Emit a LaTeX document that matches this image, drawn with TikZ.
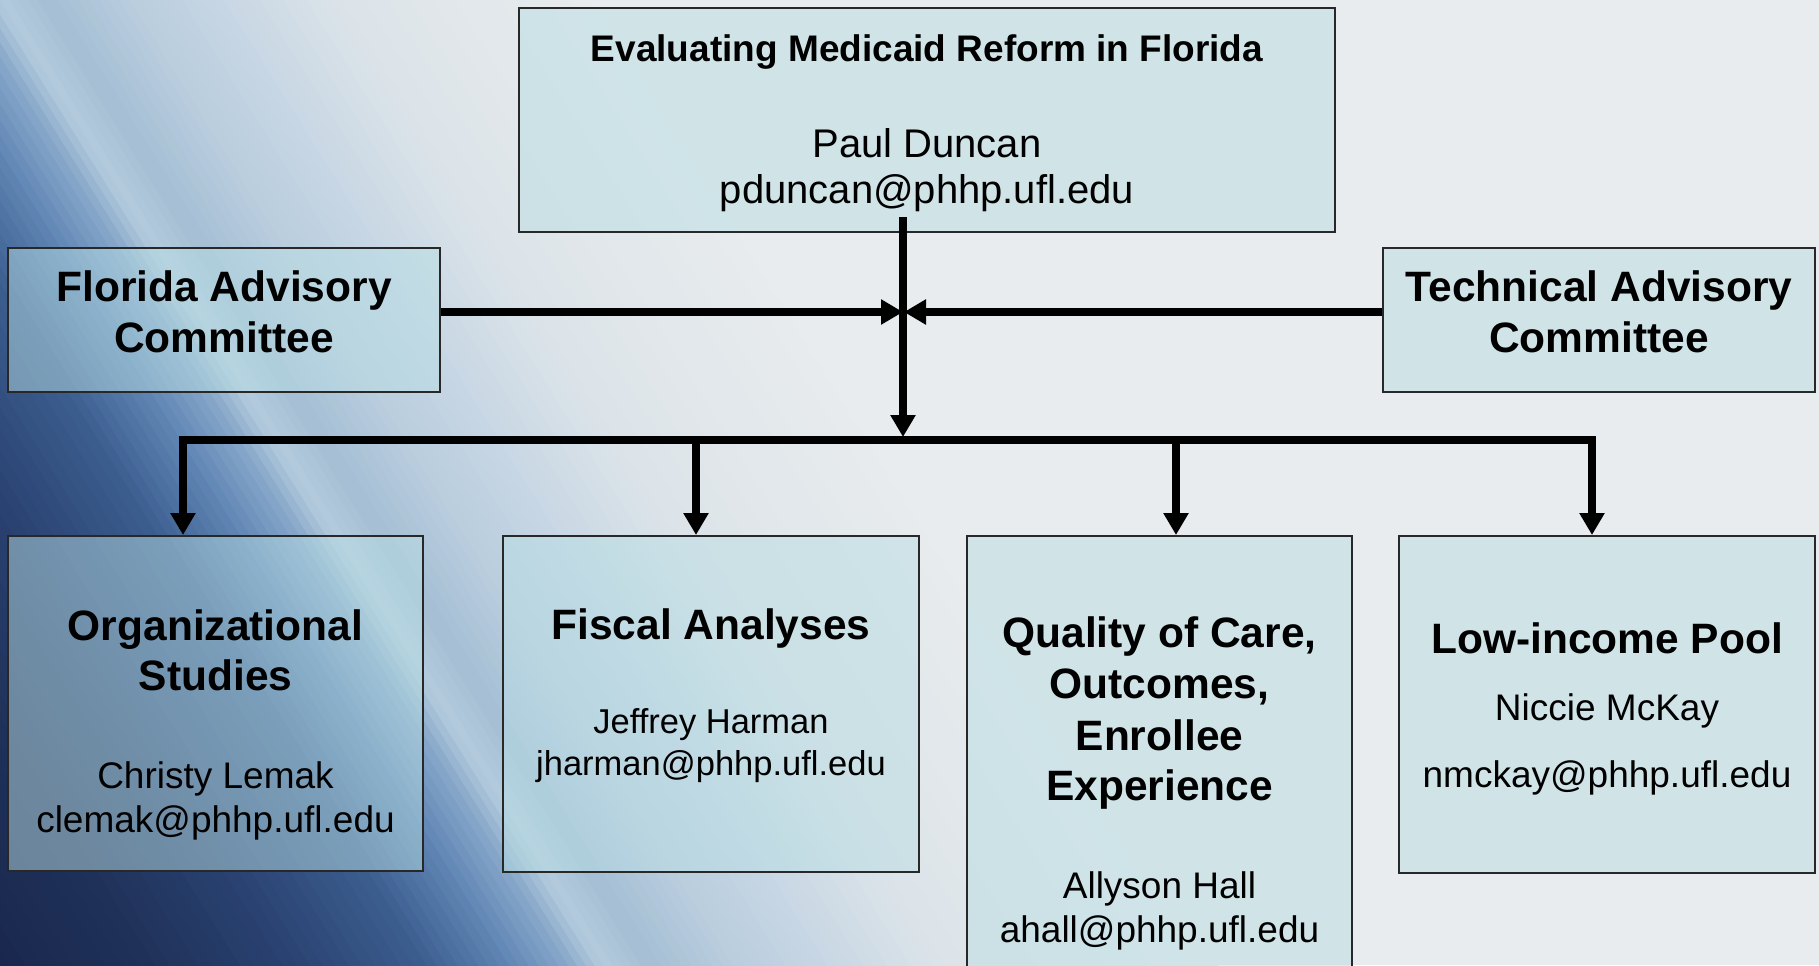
\documentclass[tikz,border=0pt]{standalone}
\usepackage{fontspec}
\setmainfont{Liberation Sans}
\usetikzlibrary{arrows.meta}
\definecolor{boxfill}{RGB}{185,222,228}
\definecolor{boxline}{RGB}{40,40,40}
\definecolor{bgA}{RGB}{20,32,70}
\definecolor{bgB}{RGB}{32,50,90}
\definecolor{bgC}{RGB}{42,67,114}
\definecolor{bgD}{RGB}{60,94,144}
\definecolor{bgE}{RGB}{96,134,180}
\definecolor{bgF}{RGB}{135,168,202}
\definecolor{bgG}{RGB}{180,203,220}
\definecolor{bgH}{RGB}{165,190,212}
\definecolor{bgI}{RGB}{185,205,222}
\definecolor{bgJ}{RGB}{200,215,228}
\definecolor{bgL}{RGB}{220,228,233}
\definecolor{bgK}{RGB}{233,236,238}
\def\bgcs{0.848}
\def\bgsn{0.530}
% strips of a diagonal gradient: u1 u2 colour1 colour2 steps
\newcommand\bgseg[5]{%
  \foreach \i in {1,...,#5}{%
    \pgfmathsetmacro\bgua{#1+(#2-#1)*(\i-1)/#5}%
    \pgfmathsetmacro\bgub{#1+(#2-#1)*\i/#5+1.5}%
    \pgfmathsetmacro\bgpp{100-100*(\i-0.5)/#5}%
    \fill[fill={#3!\bgpp!#4}] ({(\bgua-\bgsn*50)/\bgcs},-50) -- ({(\bgua+\bgsn*1015)/\bgcs},1015)
      -- ({(\bgub+\bgsn*1015)/\bgcs},1015) -- ({(\bgub-\bgsn*50)/\bgcs},-50) -- cycle;
  }}
\tikzset{
  box/.style={draw=boxline, line width=1pt, fill=boxfill, fill opacity=0.5, rectangle, inner sep=0pt},
  conn/.style={line width=3.6pt, draw=black, line join=miter},
  tipA/.style={-{Triangle[width=12pt,length=11pt]}},
  hd/.style={anchor=base, inner sep=0pt, font=\bfseries\fontsize{21.25}{25}\selectfont},
  hdsm/.style={anchor=base, inner sep=0pt, font=\bfseries\fontsize{18.5}{22}\selectfont},
  nm/.style={anchor=base, inner sep=0pt, font=\fontsize{18.5}{22}\selectfont},
  nmsm/.style={anchor=base, inner sep=0pt, font=\fontsize{17.25}{21}\selectfont},
  nmlg/.style={anchor=base, inner sep=0pt, font=\fontsize{20}{23}\selectfont}
}
\begin{document}
\begin{tikzpicture}[x=0.5pt,y=-0.5pt]
\useasboundingbox (0,0) rectangle (1819,965);
\clip (0,0) rectangle (1819,965);
% background
\fill[bgK] (0,0) rectangle (1819,965);
\bgseg{-600}{-380}{bgA}{bgB}{16}
\bgseg{-380}{-260}{bgB}{bgC}{10}
\bgseg{-260}{-150}{bgC}{bgD}{10}
\bgseg{-150}{-80}{bgD}{bgE}{8}
\bgseg{-80}{-30}{bgE}{bgF}{6}
\bgseg{-30}{0}{bgF}{bgG}{4}
\bgseg{0}{40}{bgG}{bgH}{5}
\bgseg{40}{110}{bgH}{bgI}{8}
\bgseg{110}{190}{bgI}{bgJ}{9}
\bgseg{190}{290}{bgJ}{bgL}{10}
\bgseg{290}{520}{bgL}{bgK}{12}
% boxes
\node[box, minimum width=408pt, minimum height=112pt] (top) at (927,120) {};
\node[box, minimum width=216pt, minimum height=72pt] (fac) at (224,320) {};
\node[box, minimum width=216pt, minimum height=72pt] (tac) at (1599,320) {};
\node[box, minimum width=207.5pt, minimum height=167.5pt] (b1) at (215.5,703.5) {};
\node[box, minimum width=208pt, minimum height=168pt] (b2) at (711,704) {};
\node[box, minimum width=192.5pt, minimum height=232pt] (b3) at (1159.5,768) {};
\node[box, minimum width=208pt, minimum height=168.5pt] (b4) at (1607,704.5) {};
% connector points
\coordinate (vtop) at (903,217);
\coordinate (vend) at (903,437);
\coordinate (hubL) at (903,312);
\coordinate (hubR) at (904,312);
\coordinate (d1) at (183,440);
\coordinate (d2) at (696,440);
\coordinate (d3) at (1176,440);
\coordinate (d4) at (1592,440);
% connectors
\draw[conn,tipA] (vtop) -- (vend);
\draw[conn,tipA] (fac.east |- hubL) -- (hubL);
\draw[conn,tipA] (tac.west |- hubR) -- (hubR);
\draw[conn,{Triangle[width=12pt,length=11pt]}-{Triangle[width=12pt,length=11pt]}] (d4 |- b4.north) -- (d4) -- (d1) -- (d1 |- b1.north);
\draw[conn,tipA] (d2) -- (d2 |- b2.north);
\draw[conn,tipA] (d3) -- (d3 |- b3.north);
% texts
\node[hdsm] (t0a) at (927,61) {Evaluating Medicaid Reform in Florida};
\node[nmlg] (t0b) at (927,157) {Paul Duncan};
\node[nmlg] (t0c) at (927,203) {pduncan@phhp.ufl.edu};
\node[hd] (tfa) at (224,301) {Florida Advisory};
\node[hd] (tfb) at (224,352) {Committee};
\node[hd] (tta) at (1599,301) {Technical Advisory};
\node[hd] (ttb) at (1599,352) {Committee};
\node[hd] (t1a) at (215.5,640) {Organizational};
\node[hd] (t1b) at (215.5,690) {Studies};
\node[nm] (t1c) at (215.5,788) {Christy Lemak};
\node[nm] (t1d) at (215.5,832) {clemak@phhp.ufl.edu};
\node[hd] (t2a) at (711,639) {Fiscal Analyses};
\node[nmsm] (t2b) at (711,733) {Jeffrey Harman};
\node[nmsm] (t2c) at (711,775) {jharman@phhp.ufl.edu};
\node[hd] (t3a) at (1159.5,647) {Quality of Care,};
\node[hd] (t3b) at (1159.5,698) {Outcomes,};
\node[hd] (t3c) at (1159.5,750) {Enrollee};
\node[hd] (t3d) at (1159.5,800) {Experience};
\node[nm] (t3e) at (1159.5,898) {Allyson Hall};
\node[nm] (t3f) at (1159.5,942) {ahall@phhp.ufl.edu};
\node[hd] (t4a) at (1607,653) {Low-income Pool};
\node[nm] (t4b) at (1607,720) {Niccie McKay};
\node[nm] (t4c) at (1607,787) {nmckay@phhp.ufl.edu};
\end{tikzpicture}
\end{document}
